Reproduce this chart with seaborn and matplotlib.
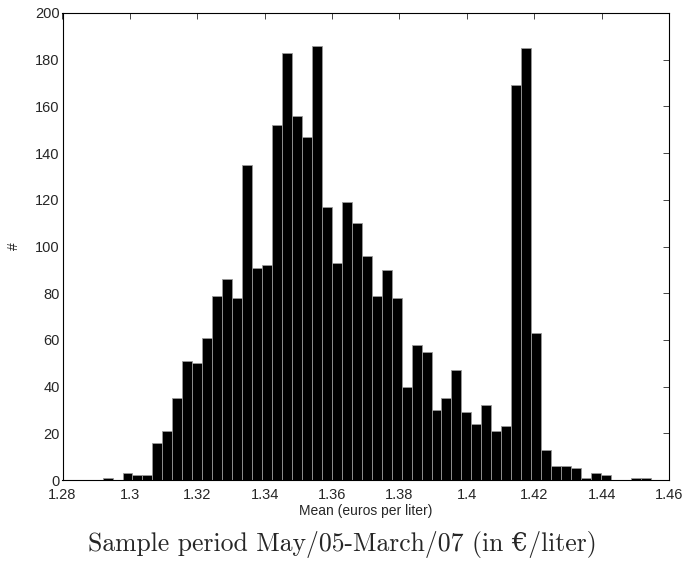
import numpy as np
import pandas as pd
import matplotlib
matplotlib.use("Agg")
import matplotlib.pyplot as plt
import seaborn as sns

# 直方图数据
bin_start = 1.2919
bin_width = 0.002958
counts = [1, 0, 3, 2, 2, 16, 21, 35, 51, 50,
          61, 79, 86, 78, 135, 91, 92, 152, 183, 156,
          147, 186, 117, 93, 119, 110, 96, 79, 90, 78,
          40, 58, 55, 30, 35, 47, 29, 24, 32, 21,
          23, 169, 185, 63, 13, 6, 6, 5, 1, 3,
          2, 0, 0, 1, 1]
x_ticks = [1.28, 1.3, 1.32, 1.34, 1.36, 1.38, 1.4, 1.42, 1.44, 1.46]
x_tick_labels = ['1.28', '1.3', '1.32', '1.34', '1.36', '1.38', '1.4', '1.42', '1.44', '1.46']
y_ticks = list(range(0, 201, 20))

n_bins = len(counts)
bin_end = bin_start + bin_width * n_bins
centers = bin_start + bin_width * (np.arange(n_bins) + 0.5)
df = pd.DataFrame({'mean': centers, 'count': counts})

sns.set_style("white")
plt.rcParams['font.family'] = ['Liberation Sans', 'DejaVu Sans']

fig = plt.figure(figsize=(6.84, 5.61), dpi=100)
ax = fig.add_axes([62.5 / 684, 1 - 480 / 561, (669 - 62.5) / 684, (480 - 13) / 561])

sns.histplot(data=df, x='mean', weights='count', bins=n_bins,
             binrange=(bin_start, bin_end), ax=ax,
             color='black', alpha=1, edgecolor='0.6', linewidth=0.6)

ax.set_xlim(1.28, 1.46)
ax.set_ylim(0, 200)
ax.set_xticks(x_ticks)
ax.set_xticklabels(x_tick_labels)
ax.set_yticks(y_ticks)
ax.tick_params(direction='in', top=True, right=True, length=4, width=0.6,
               labelsize=10.5)
ax.tick_params(axis='x', pad=5.5)
ax.tick_params(axis='y', pad=2)
for s in ax.spines.values():
    s.set_color('black')
    s.set_linewidth(0.8)
ax.set_xlabel('Mean (euros per liter)', fontsize=10, labelpad=2)
ax.set_ylabel('#', fontsize=10, labelpad=10)

fig.text(0.5, 1 - 545 / 561, 'Sample period May/05-March/07 (in \u20ac/liter)',
         ha='center', va='center', fontsize=18.5,
         family=['cmr10', 'DejaVu Serif'])

fig.savefig('out.png', dpi=100)
